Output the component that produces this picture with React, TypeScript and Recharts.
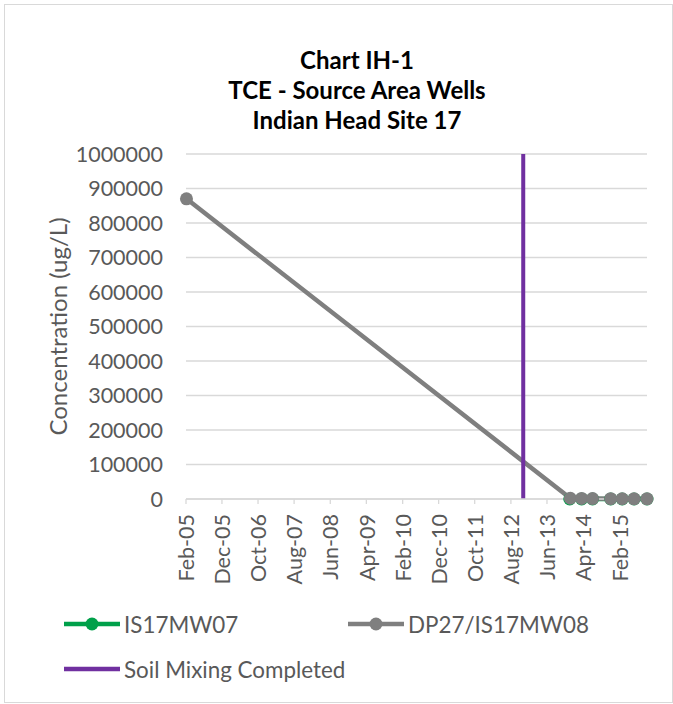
import React from "react";
import { LineChart, Line, XAxis, YAxis, CartesianGrid, Legend } from "recharts";

const FONT = "Lato, 'Open Sans', sans-serif";
const TEXT = "#595959";
const GRID = "#d9d9d9";

// IS17MW07
const mw07Dates = ["2013-12-10", "2014-03-20", "2014-06-20", "2014-11-20", "2015-02-25", "2015-06-05", "2015-09-22"];
const mw07Values = [150, 90, 60, 40, 30, 25, 20];

// DP27/IS17MW08
const mw08Dates = ["2005-02-05", "2013-12-15", "2014-03-20", "2014-06-20", "2014-11-20", "2015-02-25", "2015-06-05", "2015-09-22"];
const mw08Values = [870000, 2200, 1600, 1100, 900, 750, 600, 500];

// Soil Mixing Completed (vertical marker)
const mixingDates = ["2012-11-13", "2012-11-13"];
const mixingValues = [0, 1000000];

const xTickDates = [
  "2005-02-01", "2005-12-01", "2006-10-01", "2007-08-01", "2008-06-01", "2009-04-01", "2010-02-01",
  "2010-12-01", "2011-10-01", "2012-08-01", "2013-06-01", "2014-04-01", "2015-02-01",
];
const yTicks = [0, 100000, 200000, 300000, 400000, 500000, 600000, 700000, 800000, 900000, 1000000];
const monthNames = ["Jan", "Feb", "Mar", "Apr", "May", "Jun", "Jul", "Aug", "Sep", "Oct", "Nov", "Dec"];

const toDay = (s: string) => {
  const [y, m, d] = s.split("-").map(Number);
  return Date.UTC(y, m - 1, d) / 86400000;
};
const fmtDay = (day: number) => {
  const d = new Date(day * 86400000);
  return `${monthNames[d.getUTCMonth()]}-${String(d.getUTCFullYear() % 100).padStart(2, "0")}`;
};

const zip = (dates: string[], vals: number[]) => dates.map((d, i) => ({ t: toDay(d), v: vals[i] }));
const mw07 = zip(mw07Dates, mw07Values);
const mw08 = zip(mw08Dates, mw08Values);
const mixing = zip(mixingDates, mixingValues);
const xTicks = xTickDates.map(toDay);
const xMax = Math.max(...mw08.map((p) => p.t));

const XTick = (props: any) => {
  const { x, y, payload } = props;
  return (
    <text
      x={x}
      y={y}
      dy="0.38em"
      transform={`rotate(-90, ${x}, ${y})`}
      textAnchor="end"
      fill={TEXT}
      fontSize={21.5}
      fontFamily={FONT}
    >
      {fmtDay(payload.value)}
    </text>
  );
};

const legendItems = [
  { name: "IS17MW07", color: "#00a04a", dot: true, left: 59, top: 0 },
  { name: "DP27/IS17MW08", color: "#7f7f7f", dot: true, left: 343, top: 0 },
  { name: "Soil Mixing Completed", color: "#7030a0", dot: false, left: 59, top: 45 },
];

const LegendBox = () => (
  <div style={{ position: "relative", height: 90, fontFamily: FONT }}>
    {legendItems.map((it) => (
      <div
        key={it.name}
        style={{ position: "absolute", left: it.left, top: it.top, height: 24, display: "flex", alignItems: "center" }}
      >
        <svg width={56} height={24}>
          <line x1={0} y1={12} x2={56} y2={12} stroke={it.color} strokeWidth={4.5} />
          {it.dot && <circle cx={28} cy={12} r={6.5} fill={it.color} />}
        </svg>
        <span style={{ marginLeft: 4, fontSize: 22.4, color: TEXT, whiteSpace: "nowrap" }}>{it.name}</span>
      </div>
    ))}
  </div>
);

export default function App() {
  return (
    <div
      style={{
        position: "absolute",
        left: 4,
        top: 4,
        width: 669,
        height: 699,
        border: `1px solid ${GRID}`,
        boxSizing: "border-box",
        background: "#fff",
      }}
    >
      <div
        style={{
          position: "absolute",
          left: 152,
          top: 40,
          width: 400,
          textAlign: "center",
          fontFamily: FONT,
          fontWeight: 700,
          fontSize: 24,
          lineHeight: "30px",
          color: "#000",
        }}
      >
        <div>Chart IH-1</div>
        <div>TCE - Source Area Wells</div>
        <div>Indian Head Site 17</div>
      </div>
      <LineChart width={667} height={697} margin={{ top: 149, right: 25, bottom: 0, left: 0 }}>
        <CartesianGrid vertical={false} stroke={GRID} strokeWidth={1.3} />
        <XAxis
          type="number"
          dataKey="t"
          domain={[xTicks[0], xMax]}
          ticks={xTicks}
          interval={0}
          height={113}
          tick={<XTick />}
          tickSize={5}
          tickMargin={10}
          axisLine={{ stroke: GRID, strokeWidth: 1.3 }}
          tickLine={{ stroke: GRID, strokeWidth: 1.3 }}
          allowDuplicatedCategory={false}
        />
        <YAxis
          type="number"
          domain={[0, 1000000]}
          ticks={yTicks}
          interval={0}
          width={181}
          axisLine={false}
          tickLine={false}
          tickSize={0}
          tickMargin={23}
          tick={{ fill: TEXT, fontSize: 21.5, fontFamily: FONT }}
          label={{
            content: (p: any) => {
              const vb = p.viewBox || { x: 0, y: 149, width: 181, height: 345 };
              const cx = vb.x + 52;
              const cy = vb.y + vb.height / 2;
              return (
                <text
                  x={cx}
                  y={cy}
                  transform={`rotate(-90, ${cx}, ${cy})`}
                  textAnchor="middle"
                  dominantBaseline="central"
                  fill={TEXT}
                  fontSize={24}
                  fontFamily={FONT}
                >
                  Concentration (ug/L)
                </text>
              );
            },
          }}
        />
        <Legend verticalAlign="bottom" height={90} content={<LegendBox />} />
        <Line
          data={mw07}
          dataKey="v"
          name="IS17MW07"
          type="linear"
          stroke="#00a04a"
          strokeWidth={4.5}
          dot={{ r: 6.5, fill: "#00a04a", stroke: "none" }}
          isAnimationActive={false}
        />
        <Line
          data={mw08}
          dataKey="v"
          name="DP27/IS17MW08"
          type="linear"
          stroke="#7f7f7f"
          strokeWidth={4.5}
          dot={{ r: 6.5, fill: "#7f7f7f", stroke: "none" }}
          isAnimationActive={false}
        />
        <Line
          data={mixing}
          dataKey="v"
          name="Soil Mixing Completed"
          type="linear"
          stroke="#7030a0"
          strokeWidth={4}
          dot={false}
          isAnimationActive={false}
        />
      </LineChart>
    </div>
  );
}
